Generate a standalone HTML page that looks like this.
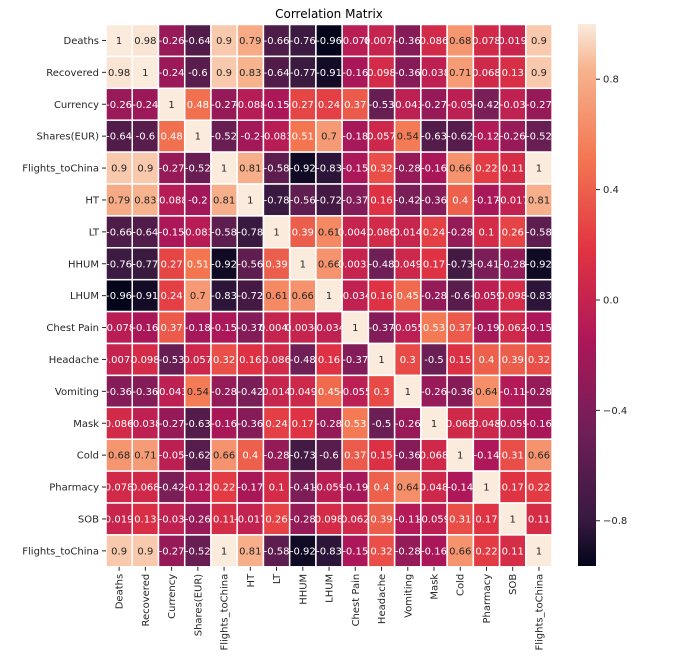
<!DOCTYPE html>
<html><head><meta charset="utf-8"><style>
body{margin:0;background:#fff;}
svg text{font-family:"DejaVu Sans","Liberation Sans",sans-serif;}
</style></head><body>
<svg id="chart" width="682" height="651" xmlns="http://www.w3.org/2000/svg">
<text x="329" y="18" text-anchor="middle" font-size="12" fill="#000">Correlation Matrix</text>
<defs><linearGradient id="cbg" x1="0" y1="1" x2="0" y2="0">
<stop offset="0" stop-color="#03051a"/><stop offset="0.083" stop-color="#35193e"/><stop offset="0.25" stop-color="#701f57"/><stop offset="0.417" stop-color="#ad1759"/><stop offset="0.583" stop-color="#e13342"/><stop offset="0.75" stop-color="#f37651"/><stop offset="0.917" stop-color="#f6b48f"/><stop offset="1" stop-color="#faebdd"/>
</linearGradient></defs>
<rect x="578" y="24" width="18" height="542" fill="url(#cbg)"/>
<g id="cells"></g><g id="labels"></g><g id="cbar"></g>
</svg>
<script>
const labels=["Deaths","Recovered","Currency","Shares(EUR)","Flights_toChina","HT","LT","HHUM","LHUM","Chest Pain","Headache","Vomiting","Mask","Cold","Pharmacy","SOB","Flights_toChina"];
const r0=[1,0.98,-0.26,-0.64,0.9,0.79,-0.66,-0.76,-0.96,-0.078,0.0078,-0.36,0.086,0.68,0.078,0.019,0.9];
const r1=[0.98,1,-0.24,-0.6,0.9,0.83,-0.64,-0.77,-0.91,-0.16,0.098,-0.36,-0.038,0.71,0.068,0.13,0.9];
const r2=[-0.26,-0.24,1,0.48,-0.27,-0.088,-0.15,0.27,0.24,0.37,-0.53,-0.043,-0.27,-0.05,-0.42,-0.03,-0.27];
const r3=[-0.64,-0.6,0.48,1,-0.52,-0.2,-0.083,0.51,0.7,-0.18,0.057,0.54,-0.63,-0.62,-0.12,-0.26,-0.52];
const r4=[0.9,0.9,-0.27,-0.52,1,0.81,-0.58,-0.92,-0.83,-0.15,0.32,-0.28,-0.16,0.66,0.22,0.11,1];
const r5=[0.79,0.83,-0.088,-0.2,0.81,1,-0.78,-0.56,-0.72,-0.37,0.16,-0.42,-0.36,0.4,-0.17,-0.017,0.81];
const r6=[-0.66,-0.64,-0.15,-0.083,-0.58,-0.78,1,0.39,0.61,0.0043,0.086,0.014,0.24,-0.28,0.1,0.26,-0.58];
const r7=[-0.76,-0.77,0.27,0.51,-0.92,-0.56,0.39,1,0.66,0.0033,-0.48,0.049,0.17,-0.73,-0.41,-0.28,-0.92];
const r8=[-0.96,-0.91,0.24,0.7,-0.83,-0.72,0.61,0.66,1,-0.034,0.16,0.45,-0.28,-0.6,-0.059,0.098,-0.83];
const r9=[-0.078,-0.16,0.37,-0.18,-0.15,-0.37,0.0043,0.0033,-0.034,1,-0.37,-0.055,0.53,0.37,-0.19,0.062,-0.15];
const r10=[0.0078,0.098,-0.53,0.057,0.32,0.16,0.086,-0.48,0.16,-0.37,1,0.3,-0.5,0.15,0.4,0.39,0.32];
const r11=[-0.36,-0.36,-0.043,0.54,-0.28,-0.42,0.014,0.049,0.45,-0.055,0.3,1,-0.26,-0.36,0.64,-0.11,-0.28];
const r12=[0.086,-0.038,-0.27,-0.63,-0.16,-0.36,0.24,0.17,-0.28,0.53,-0.5,-0.26,1,0.068,0.048,-0.059,-0.16];
const r13=[0.68,0.71,-0.05,-0.62,0.66,0.4,-0.28,-0.73,-0.6,0.37,0.15,-0.36,0.068,1,-0.14,0.31,0.66];
const r14=[0.078,0.068,-0.42,-0.12,0.22,-0.17,0.1,-0.41,-0.059,-0.19,0.4,0.64,0.048,-0.14,1,0.17,0.22];
const r15=[0.019,0.13,-0.03,-0.26,0.11,-0.017,0.26,-0.28,0.098,0.062,0.39,-0.11,-0.059,0.31,0.17,1,0.11];
const r16=[0.9,0.9,-0.27,-0.52,1,0.81,-0.58,-0.92,-0.83,-0.15,0.32,-0.28,-0.16,0.66,0.22,0.11,1];
const matrix=[r0,r1,r2,r3,r4,r5,r6,r7,r8,r9,r10,r11,r12,r13,r14,r15,r16];
const cbTicks=[0.8,0.4,0.0,-0.4,-0.8];
const vmin=-0.964,vmax=1.0;
const X0=106,Y0=24.5,CW=26.24,CH=31.9,N=labels.length;
const stops=[[0,[3,5,26]],[0.083,[53,25,62]],[0.25,[112,31,87]],[0.417,[173,23,89]],[0.583,[225,51,66]],[0.75,[243,118,81]],[0.917,[246,180,143]],[1,[250,235,221]]];
function cmap(v){let t=(v-vmin)/(vmax-vmin);t=Math.max(0,Math.min(1,t));
for(let i=1;i<stops.length;i++){if(t<=stops[i][0]){const a=stops[i-1],b=stops[i];const f=(t-a[0])/(b[0]-a[0]);
return 'rgb('+a[1].map((c,k)=>Math.round(c+(b[1][k]-c)*f)).join(',')+')';}}return 'rgb(250,235,221)';}
function xs(j){return X0+j*CW;} function ys(i){return Y0+i*CH;}
function cy(v){return 24+(vmax-v)/(vmax-vmin)*542;}
const NS='http://www.w3.org/2000/svg';
const cells=document.getElementById('cells'),lab=document.getElementById('labels'),cb=document.getElementById('cbar');
function mk(tag,attrs,parent){const e=document.createElementNS(NS,tag);for(const k in attrs)e.setAttribute(k,attrs[k]);parent.appendChild(e);return e;}
for(let i=0;i<N;i++){for(let j=0;j<N;j++){const v=matrix[i][j];
const r=mk('rect',{x:xs(j),y:ys(i),width:CW,height:CH,fill:cmap(v),stroke:'#fff','stroke-width':1.5},cells);


const t=mk('text',{x:xs(j)+CW/2,y:ys(i)+CH/2+3.5,'text-anchor':'middle','font-size':'10',fill:v>0.535?'#262626':'#fff'},cells);
t.textContent=String(v);

}}
for(let i=0;i<N;i++){
const t=mk('text',{x:X0-7,y:ys(i)+CH/2+3.5,'text-anchor':'end','font-size':'10',fill:'#262626'},lab);t.textContent=labels[i];


mk('line',{x1:X0-4,x2:X0,y1:ys(i)+CH/2,y2:ys(i)+CH/2,stroke:'#262626'},lab);
const cx=xs(i)+CW/2;
mk('line',{x1:cx,x2:cx,y1:Y0+N*CH,y2:Y0+N*CH+4,stroke:'#262626'},lab);
const c=mk('text',{x:cx+3.5,y:Y0+N*CH+7,'text-anchor':'end','font-size':'10',fill:'#262626',transform:'rotate(-90 '+(cx+3.5)+' '+(Y0+N*CH+7)+')'},lab);c.textContent=labels[i];

}
cbTicks.forEach(v=>{const y=cy(v);
mk('line',{x1:596,x2:600,y1:y,y2:y,stroke:'#262626'},cb);
const t=mk('text',{x:603,y:y+3.5,'font-size':'10',fill:'#262626'},cb);t.textContent=(v<0?'\u22120.':'0.')+String(Math.abs(v).toFixed(1)).split('.')[1];

});
</script>
</body></html>
